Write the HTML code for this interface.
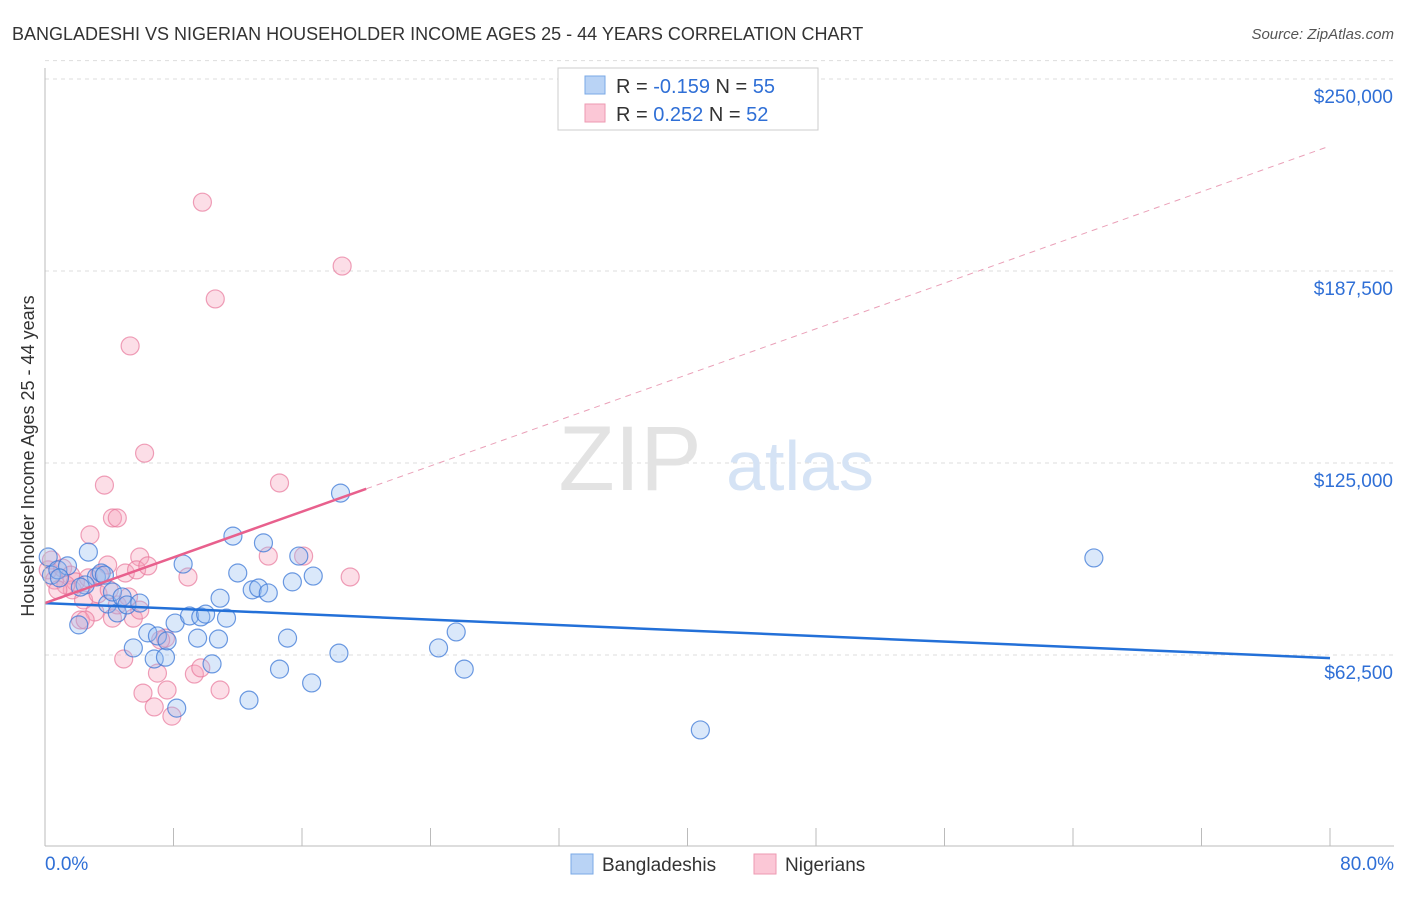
<!DOCTYPE html>
<html><head><meta charset="utf-8"><style>
body{margin:0;background:#fff;font-family:"Liberation Sans",sans-serif;}
svg text{font-family:"Liberation Sans",sans-serif;}
</style></head><body>
<svg id="c" width="1406" height="892">
<text x="12" y="40" font-size="18" fill="#333">BANGLADESHI VS NIGERIAN HOUSEHOLDER INCOME AGES 25 - 44 YEARS CORRELATION CHART</text>
<text x="1394" y="39" font-size="15" fill="#555" font-style="italic" text-anchor="end">Source: ZipAtlas.com</text>
<g id="grid"></g>
<text x="630" y="490" font-size="92" fill="#e3e3e3" font-family="Liberation Serif" text-anchor="middle">ZIP</text>
<text x="800" y="490" font-size="70" fill="#d5e3f5" text-anchor="middle">atlas</text>
<g id="pts"></g>
<g id="axes"></g>
<text transform="translate(34,456) rotate(-90)" font-size="18" fill="#333" text-anchor="middle">Householder Income Ages 25 - 44 years</text>
<g>
<rect x="558" y="68" width="260" height="62" fill="#fff" stroke="#ccc"/>
<rect x="585" y="76" width="20" height="18" fill="#b9d3f5" stroke="#7aa8e6"/>
<rect x="585" y="104" width="20" height="18" fill="#fbc7d6" stroke="#ee9ab2"/>
<text x="616" y="93" font-size="20" fill="#333">R = <tspan fill="#2f6fd6">-0.159</tspan>   N = <tspan fill="#2f6fd6">55</tspan></text>
<text x="616" y="121" font-size="20" fill="#333">R = <tspan fill="#2f6fd6"> 0.252</tspan>   N = <tspan fill="#2f6fd6">52</tspan></text>
</g>
<g>
<rect x="571" y="854" width="22" height="20" fill="#b9d3f5" stroke="#7aa8e6"/>
<text x="602" y="871" font-size="19" fill="#333">Bangladeshis</text>
<rect x="754" y="854" width="22" height="20" fill="#fbc7d6" stroke="#ee9ab2"/>
<text x="785" y="871" font-size="19" fill="#333">Nigerians</text>
</g>
</svg>
<script>
const yTicks=[62500,125000,187500,250000];
const yTickLabels=["$62,500","$125,000","$187,500","$250,000"];
const xTickLabels=["0.0%","80.0%"];
const blueX=[0.2,0.4,0.8,1.4,2.7,3.2,3.5,2.5,2.1,3.9,4.2,4.5,4.8,5.1,5.9,5.5,6.4,6.8,7.0,7.5,7.6,8.1,8.2,8.6,9.0,9.5,9.7,10.0,10.4,10.8,10.9,11.3,11.7,12.0,12.7,12.9,13.3,13.6,13.9,14.6,15.1,15.4,15.8,16.6,16.7,18.3,18.4,24.5,25.6,26.1,40.8,65.3,2.2,0.9,3.7];
const blueY=[94400,88500,90200,91500,96000,87900,89200,85300,72300,79100,83000,76200,81400,78800,79400,64800,69700,61200,68700,61800,67100,72900,45200,92100,75200,68000,74900,75800,59600,67700,81000,74500,101200,89200,47800,83700,84300,99000,82700,57900,68000,86300,94700,53400,88200,63100,115200,64800,70000,57900,38100,94100,84600,87600,88500];
const pinkX=[0.2,0.4,0.6,1.1,1.6,1.7,1.9,2.7,2.8,2.4,3.1,3.3,3.7,3.9,4.2,4.5,4.2,4.5,4.9,5.0,5.3,5.5,5.9,5.7,6.1,6.2,6.4,6.8,7.0,7.5,7.6,7.9,8.9,9.3,9.7,9.8,10.6,10.9,13.9,14.6,16.1,18.5,19.0,2.2,1.3,3.4,5.2,5.9,4.0,0.8,2.5,7.2];
const pinkY=[90200,93400,86900,90800,88500,83700,86300,87600,101600,80400,76500,82400,117800,91800,107100,107100,74500,78800,61200,89200,163100,74500,94400,90200,50100,128200,91500,45600,56600,68000,51100,42600,87900,56300,58300,209900,178400,51100,94700,118500,94700,189100,87900,73900,85300,88500,81400,77100,83700,83700,73900,67400];
const blueTrend=[79400,61500];
const pinkTrend=[79400,228200];
const pinkSolidEnd=20;
const X0=45,X1=1330,Y0=847;
const sx=v=>X0+(v/80)*(X1-X0);
const sy=v=>Y0-v/62500*192;
const NS="http://www.w3.org/2000/svg";
function mk(t,a,p){const e=document.createElementNS(NS,t);for(const k in a)e.setAttribute(k,a[k]);p.appendChild(e);return e;}
const grid=document.getElementById('grid'),axes=document.getElementById('axes'),pts=document.getElementById('pts');
yTicks.forEach((v,i)=>{
 const l=mk('line',{x1:45,x2:1394,y1:sy(v),y2:sy(v),stroke:'#ddd','stroke-dasharray':'4,4'},grid);
 
 
 const t=mk('text',{x:1393,y:sy(v)+24,'font-size':19,fill:'#2f6fd6','text-anchor':'end'},axes);
 t.textContent=yTickLabels[i];
 
 
});
const tl=mk('line',{x1:45,x2:1394,y1:sy(256000),y2:sy(256000),stroke:'#ddd','stroke-dasharray':'4,4'},grid);


const ya=mk('line',{x1:45,x2:45,y1:68,y2:846,stroke:'#bbb'},axes);


const xa=mk('line',{x1:45,x2:1394,y1:846,y2:846,stroke:'#bbb'},axes);


for(let i=0;i<=10;i++){const x=sx(i*8);const t=mk('line',{x1:x,x2:x,y1:828,y2:846,stroke:'#bbb'},axes);
 
 }
[[0,'start',45],[1,'end',1394]].forEach(([i,a,x])=>{const t=mk('text',{x:x,y:870,'font-size':19,fill:'#2f6fd6','text-anchor':a},axes);t.textContent=xTickLabels[i];
 
 });
pinkX.forEach((x,i)=>{const c=mk('circle',{cx:sx(x),cy:sy(pinkY[i]),r:9,fill:'rgba(246,160,186,0.35)',stroke:'rgba(232,120,155,0.7)','stroke-width':1.2},pts);
 
 });
blueX.forEach((x,i)=>{const c=mk('circle',{cx:sx(x),cy:sy(blueY[i]),r:9,fill:'rgba(150,190,240,0.35)',stroke:'rgba(60,120,215,0.75)','stroke-width':1.2},pts);
 
 });
const bl=mk('line',{x1:sx(0),y1:sy(blueTrend[0]),x2:sx(80),y2:sy(blueTrend[1]),stroke:'#2370d8','stroke-width':2.5},pts);


const pm=(pinkTrend[1]-pinkTrend[0])/80;
const pl=mk('line',{x1:sx(0),y1:sy(pinkTrend[0]),x2:sx(pinkSolidEnd),y2:sy(pinkTrend[0]+pm*pinkSolidEnd),stroke:'#e8608d','stroke-width':2.5},pts);


const pd=mk('line',{x1:sx(pinkSolidEnd),y1:sy(pinkTrend[0]+pm*pinkSolidEnd),x2:sx(80),y2:sy(pinkTrend[1]),stroke:'#eaa0b8','stroke-width':1,'stroke-dasharray':'6,5'},pts);


</script>
</body></html>
